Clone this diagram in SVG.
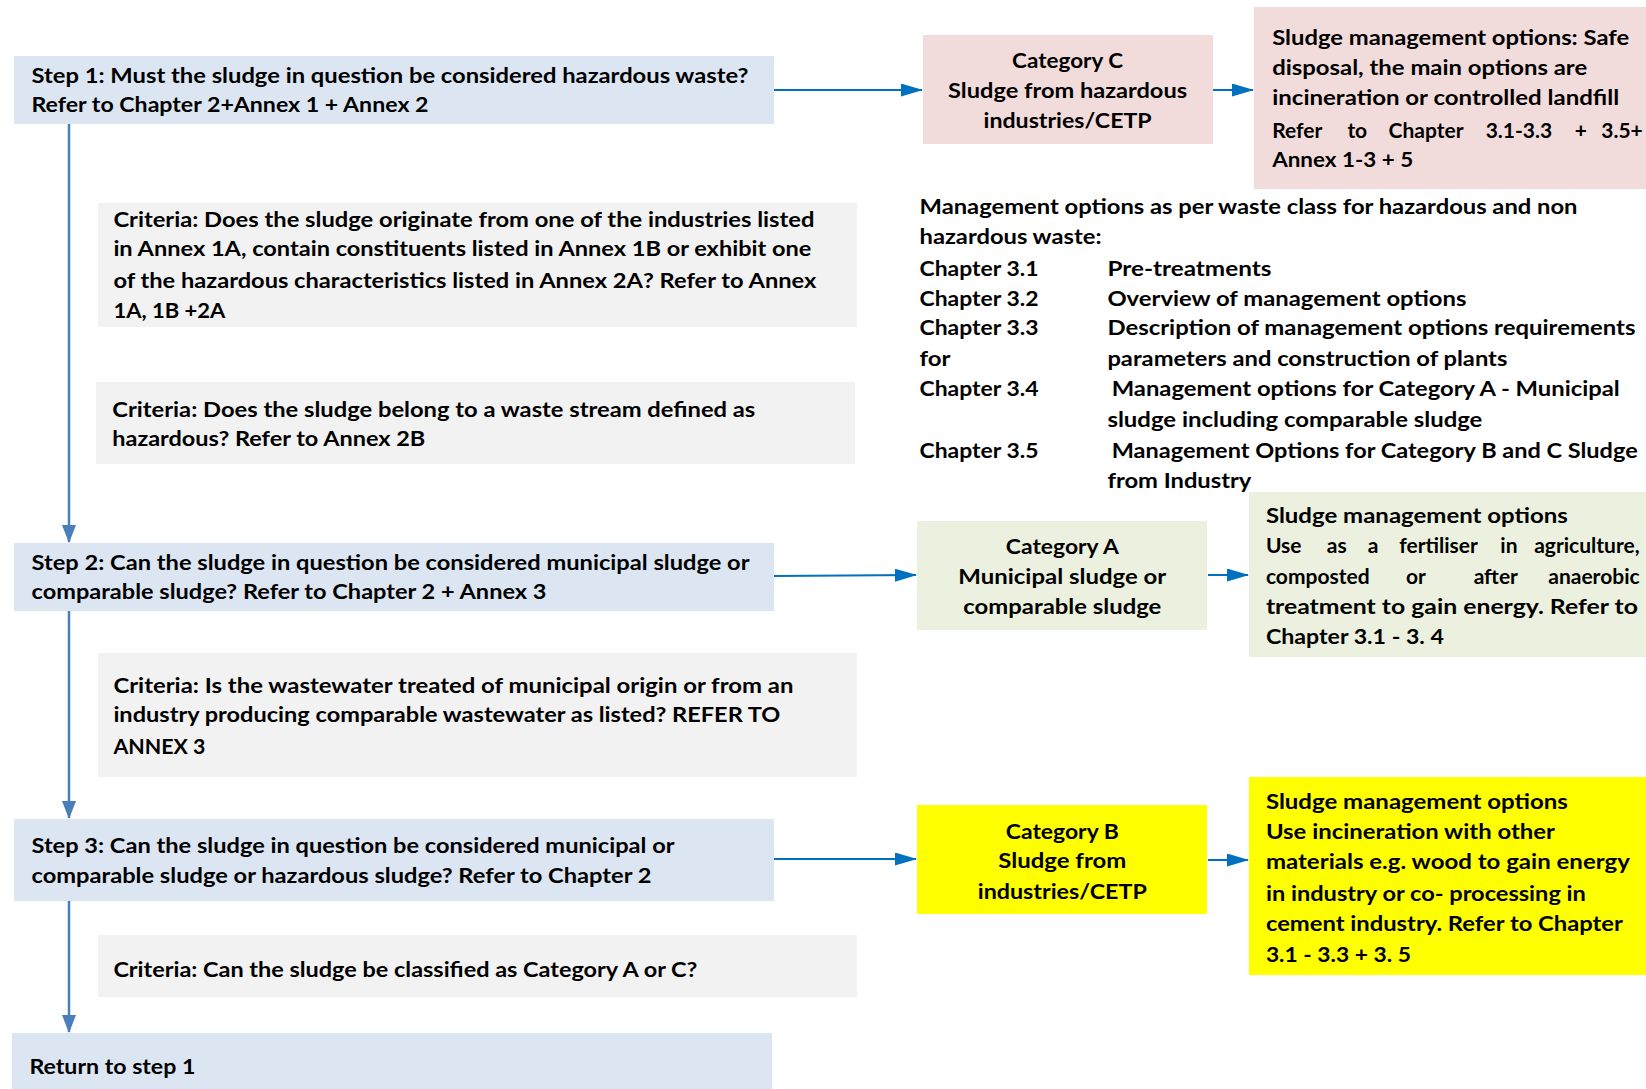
<svg xmlns="http://www.w3.org/2000/svg" width="1646" height="1089" viewBox="0 0 1646 1089">
<style>
text{font-family:Lato,"Liberation Sans",Arial,sans-serif;font-weight:bold;font-size:21px;fill:#000}
.c{text-anchor:middle}
.m{text-anchor:middle}
.e{text-anchor:end}
.step{fill:#dce6f2}
.crit{fill:#f2f2f2}
.pink{fill:#f2dcdb}
.green{fill:#ebf1de}
.yellow{fill:#ffff00}
.vline{stroke:#4a7ebb;stroke-width:2.5;fill:none}
.hline{stroke:#0070c0;stroke-width:2;fill:none}
</style>
<defs>
<marker id="av" markerUnits="userSpaceOnUse" markerWidth="18" markerHeight="14" refX="17" refY="7" orient="auto" viewBox="0 0 18 14">
<path d="M0,0 L18,7 L0,14 Z" fill="#4a7ebb"/>
</marker>
<marker id="ah" markerUnits="userSpaceOnUse" markerWidth="22" markerHeight="13" refX="21" refY="6.5" orient="auto" viewBox="0 0 22 13">
<path d="M0,0 L22,6.5 L0,13 Z" fill="#0070c0"/>
</marker>
</defs>
<rect width="1646" height="1089" fill="#fff"/>

<g id="connectors">
<line class="vline" x1="69" y1="124" x2="69" y2="542" marker-end="url(#av)"/>
<line class="vline" x1="69" y1="611" x2="69" y2="818" marker-end="url(#av)"/>
<line class="vline" x1="69" y1="901" x2="69" y2="1032" marker-end="url(#av)"/>
<line class="hline" x1="774" y1="90" x2="922" y2="90" marker-end="url(#ah)"/>
<line class="hline" x1="1213" y1="90" x2="1253" y2="90" marker-end="url(#ah)"/>
<line class="hline" x1="774" y1="576" x2="916" y2="575" marker-end="url(#ah)"/>
<line class="hline" x1="1208" y1="575" x2="1248" y2="575" marker-end="url(#ah)"/>
<line class="hline" x1="774" y1="859" x2="916" y2="859" marker-end="url(#ah)"/>
<line class="hline" x1="1208" y1="860" x2="1248" y2="860" marker-end="url(#ah)"/>
</g>

<g id="step1">
<rect class="step" x="14" y="56" width="760" height="68"/>
<text x="31.5" y="83" textLength="717" lengthAdjust="spacingAndGlyphs">Step 1: Must the sludge in question be considered hazardous waste?</text>
<text x="31.5" y="112" textLength="397" lengthAdjust="spacingAndGlyphs">Refer to Chapter 2+Annex 1 + Annex 2</text>
</g>

<g id="criteria1">
<rect class="crit" x="98" y="203" width="759" height="124"/>
<text x="113.4" y="227" textLength="701" lengthAdjust="spacingAndGlyphs">Criteria: Does the sludge originate from one of the industries listed</text>
<text x="113.4" y="256" textLength="698" lengthAdjust="spacingAndGlyphs">in Annex 1A, contain constituents listed in Annex 1B or exhibit one</text>
<text x="113.4" y="287.5" textLength="703" lengthAdjust="spacingAndGlyphs">of the hazardous characteristics listed in Annex 2A? Refer to Annex</text>
<text x="113.4" y="318" textLength="112" lengthAdjust="spacingAndGlyphs">1A, 1B +2A</text>
</g>

<g id="criteria2">
<rect class="crit" x="96" y="382" width="759" height="82"/>
<text x="112.3" y="416.7" textLength="643" lengthAdjust="spacingAndGlyphs">Criteria: Does the sludge belong to a waste stream defined as</text>
<text x="112.3" y="446" textLength="313" lengthAdjust="spacingAndGlyphs">hazardous? Refer to Annex 2B</text>
</g>

<g id="step2">
<rect class="step" x="14" y="543" width="760" height="68"/>
<text x="31.5" y="570" textLength="718" lengthAdjust="spacingAndGlyphs">Step 2: Can  the sludge in question be considered municipal sludge or</text>
<text x="31.5" y="599.4" textLength="515" lengthAdjust="spacingAndGlyphs">comparable sludge? Refer to Chapter 2 + Annex 3</text>
</g>

<g id="criteria3">
<rect class="crit" x="98" y="653" width="759" height="124"/>
<text x="113.4" y="692.8" textLength="680" lengthAdjust="spacingAndGlyphs">Criteria: Is the wastewater treated of municipal origin or from an</text>
<text x="113.4" y="722.2" textLength="667" lengthAdjust="spacingAndGlyphs">industry producing comparable wastewater as listed? REFER TO</text>
<text x="113.4" y="753.7" textLength="92" lengthAdjust="spacingAndGlyphs">ANNEX 3</text>
</g>

<g id="step3">
<rect class="step" x="14" y="819" width="760" height="82"/>
<text x="31.5" y="853.4" textLength="643" lengthAdjust="spacingAndGlyphs">Step 3: Can  the sludge in question be considered municipal or</text>
<text x="31.5" y="882.8" textLength="620" lengthAdjust="spacingAndGlyphs">comparable sludge or hazardous sludge? Refer to  Chapter 2</text>
</g>

<g id="criteria4">
<rect class="crit" x="98" y="935" width="759" height="62"/>
<text x="113.4" y="977.3" textLength="584" lengthAdjust="spacingAndGlyphs">Criteria: Can the sludge be classified as Category A or C?</text>
</g>

<g id="return">
<rect class="step" x="12" y="1033" width="760" height="56"/>
<text x="29.4" y="1073.8" textLength="166" lengthAdjust="spacingAndGlyphs">Return to step 1</text>
</g>

<g id="categoryC">
<rect class="pink" x="923" y="35" width="290" height="109"/>
<text class="c" x="1067.6" y="68.2" textLength="111" lengthAdjust="spacingAndGlyphs">Category C</text>
<text class="c" x="1067.6" y="97.6" textLength="239" lengthAdjust="spacingAndGlyphs">Sludge from hazardous</text>
<text class="c" x="1067.6" y="128" textLength="168" lengthAdjust="spacingAndGlyphs">industries/CETP</text>
</g>

<g id="optionsC">
<rect class="pink" x="1254" y="7" width="392" height="182"/>
<text x="1272.2" y="45.1" textLength="357" lengthAdjust="spacingAndGlyphs">Sludge management options: Safe</text>
<text x="1272.2" y="74.5" textLength="315" lengthAdjust="spacingAndGlyphs">disposal, the main options are</text>
<text x="1272.2" y="105" textLength="347" lengthAdjust="spacingAndGlyphs">incineration or controlled landfill</text>
<text y="137.5"><tspan x="1272.2">Refer</tspan><tspan class="m" x="1357.3">to</tspan><tspan class="m" x="1426">Chapter</tspan><tspan class="m" x="1518.9">3.1-3.3</tspan><tspan class="m" x="1580.8">+</tspan><tspan class="e" x="1642.8">3.5+</tspan></text>
<text x="1272.2" y="166.9" textLength="141" lengthAdjust="spacingAndGlyphs">Annex 1-3 + 5</text>
</g>

<g id="management-overview">
<text x="919.5" y="214.1" textLength="658" lengthAdjust="spacingAndGlyphs">Management options as per waste class for hazardous and non</text>
<text x="919.5" y="243.5" textLength="182" lengthAdjust="spacingAndGlyphs">hazardous waste:</text>
<text x="919.5" y="276" textLength="119" lengthAdjust="spacingAndGlyphs">Chapter 3.1</text>
<text x="1107.4" y="276" textLength="164" lengthAdjust="spacingAndGlyphs">Pre-treatments</text>
<text x="919.5" y="305.5" textLength="119" lengthAdjust="spacingAndGlyphs">Chapter 3.2</text>
<text x="1107.4" y="305.5" textLength="359" lengthAdjust="spacingAndGlyphs">Overview of management options</text>
<text x="919.5" y="334.9" textLength="119" lengthAdjust="spacingAndGlyphs">Chapter 3.3</text>
<text x="1107.4" y="334.9" textLength="528" lengthAdjust="spacingAndGlyphs">Description of management options requirements</text>
<text x="919.5" y="366.3" textLength="31" lengthAdjust="spacingAndGlyphs">for</text>
<text x="1107.4" y="366.3" textLength="400" lengthAdjust="spacingAndGlyphs">parameters and construction of plants</text>
<text x="919.5" y="395.7" textLength="119" lengthAdjust="spacingAndGlyphs">Chapter 3.4</text>
<text x="1111.7" y="395.7" textLength="508" lengthAdjust="spacingAndGlyphs">Management options for Category A - Municipal</text>
<text x="1107.4" y="427.2" textLength="375" lengthAdjust="spacingAndGlyphs">sludge including comparable sludge</text>
<text x="919.5" y="457.7" textLength="119" lengthAdjust="spacingAndGlyphs">Chapter 3.5</text>
<text x="1111.7" y="457.7" textLength="526" lengthAdjust="spacingAndGlyphs">Management Options for Category B and C Sludge</text>
<text x="1107.4" y="488.1" textLength="144" lengthAdjust="spacingAndGlyphs">from Industry</text>
</g>

<g id="categoryA">
<rect class="green" x="917" y="521" width="290" height="109"/>
<text class="c" x="1062.3" y="554.2" textLength="113" lengthAdjust="spacingAndGlyphs">Category A</text>
<text class="c" x="1062.3" y="583.6" textLength="208" lengthAdjust="spacingAndGlyphs">Municipal sludge or</text>
<text class="c" x="1062.3" y="614.1" textLength="198" lengthAdjust="spacingAndGlyphs">comparable sludge</text>
</g>

<g id="optionsA">
<rect class="green" x="1249" y="492" width="397" height="165"/>
<text x="1265.9" y="522.8" textLength="302" lengthAdjust="spacingAndGlyphs">Sludge management options</text>
<text y="553.2"><tspan x="1265.9">Use</tspan><tspan class="m" x="1336.8">as</tspan><tspan class="m" x="1373">a</tspan><tspan class="m" x="1438.6">fertiliser</tspan><tspan class="m" x="1508.9">in</tspan><tspan class="e" x="1639.6">agriculture,</tspan></text>
<text y="583.6"><tspan x="1265.9">composted</tspan><tspan class="m" x="1416">or</tspan><tspan class="m" x="1495.8">after</tspan><tspan class="e" x="1639.6">anaerobic</tspan></text>
<text x="1265.9" y="614.1" textLength="372" lengthAdjust="spacingAndGlyphs">treatment to gain energy. Refer to</text>
<text x="1265.9" y="643.5" textLength="178" lengthAdjust="spacingAndGlyphs">Chapter 3.1 - 3. 4</text>
</g>

<g id="categoryB">
<rect class="yellow" x="917" y="805" width="290" height="109"/>
<text class="c" x="1062.3" y="838.7" textLength="113" lengthAdjust="spacingAndGlyphs">Category B</text>
<text class="c" x="1062.3" y="868.1" textLength="128" lengthAdjust="spacingAndGlyphs">Sludge from</text>
<text class="c" x="1062.3" y="898.5" textLength="169" lengthAdjust="spacingAndGlyphs">industries/CETP</text>
</g>

<g id="optionsB">
<rect class="yellow" x="1249" y="777" width="397" height="198"/>
<text x="1265.9" y="809.3" textLength="302" lengthAdjust="spacingAndGlyphs">Sludge management options</text>
<text x="1265.9" y="838.7" textLength="289" lengthAdjust="spacingAndGlyphs">Use incineration with other</text>
<text x="1265.9" y="869.2" textLength="364" lengthAdjust="spacingAndGlyphs">materials e.g. wood to gain energy</text>
<text x="1265.9" y="900.6" textLength="320" lengthAdjust="spacingAndGlyphs">in industry or  co- processing in</text>
<text x="1265.9" y="931.1" textLength="357" lengthAdjust="spacingAndGlyphs">cement industry. Refer to Chapter</text>
<text x="1265.9" y="961.5" textLength="145" lengthAdjust="spacingAndGlyphs">3.1 - 3.3 + 3. 5</text>
</g>
</svg>
